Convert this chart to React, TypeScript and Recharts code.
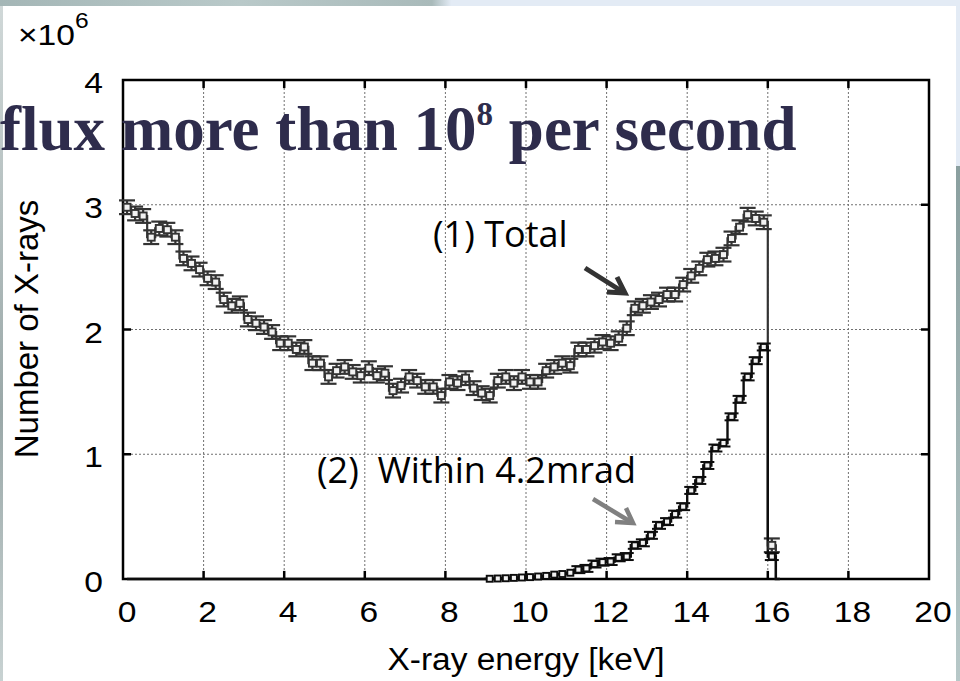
import React from "react";
import {
  ComposedChart,
  Line,
  XAxis,
  YAxis,
  CartesianGrid,
  ErrorBar,
  ReferenceLine,
  ReferenceArea,
} from "recharts";

// counts per 0.2 keV bin (x 10^6), bins centred at 0.1, 0.3, ... 16.3
const TOTAL = [
  2.98, 2.93, 2.91, 2.74, 2.81, 2.8, 2.74, 2.57, 2.53, 2.48,
  2.41, 2.38, 2.24, 2.19, 2.21, 2.08, 2.05, 2.02, 1.98, 1.89,
  1.89, 1.84, 1.86, 1.73, 1.73, 1.62, 1.67, 1.7, 1.66, 1.63,
  1.69, 1.63, 1.65, 1.51, 1.55, 1.62, 1.59, 1.54, 1.54, 1.47,
  1.58, 1.57, 1.61, 1.53, 1.49, 1.47, 1.59, 1.62, 1.57, 1.62,
  1.58, 1.58, 1.67, 1.7, 1.73, 1.71, 1.84, 1.84, 1.87, 1.9,
  1.89, 1.93, 2.01, 2.17, 2.19, 2.22, 2.24, 2.28, 2.28, 2.36,
  2.43, 2.49, 2.56, 2.57, 2.6, 2.73, 2.82, 2.92, 2.89, 2.86,
  0.27, 0,
];

const WITHIN = [
  0, 0, 0, 0, 0, 0, 0, 0, 0, 0,
  0, 0, 0, 0, 0, 0, 0, 0, 0, 0,
  0, 0, 0, 0, 0, 0, 0, 0, 0, 0,
  0, 0, 0, 0, 0, 0, 0, 0, 0, 0,
  0, 0, 0, 0, 0, 0.002, 0.004, 0.006, 0.009, 0.012,
  0.015, 0.02, 0.025, 0.035, 0.04, 0.05, 0.075, 0.085, 0.12, 0.135,
  0.14, 0.17, 0.18, 0.27, 0.29, 0.35, 0.43, 0.46, 0.52, 0.58,
  0.71, 0.79, 0.91, 1.05, 1.09, 1.3, 1.44, 1.62, 1.75, 1.86,
  0.18, 0,
];

const TOTAL_ERR = 0.055;
const WITHIN_ERR = 0.028;

const X_TICKS = [0, 2, 4, 6, 8, 10, 12, 14, 16, 18, 20];
const Y_TICKS = [0, 1, 2, 3, 4];

const data = TOTAL.map((t, i) => ({
  x: Math.round((0.1 + 0.2 * i) * 10) / 10,
  total: t,
  within: WITHIN[i],
  totalErr: t > 0 ? TOTAL_ERR : 0,
  withinErr: WITHIN[i] > 0.05 ? WITHIN_ERR : 0,
}));

const AXIS_FONT = "'Liberation Sans', Arial, sans-serif";

const XTick = (props: any) => {
  const { x, y, payload } = props;
  return (
    <text
      transform={`translate(${x + 4},${y + 43}) scale(1.12,1)`}
      textAnchor="middle"
      fontSize={30}
      fontFamily={AXIS_FONT}
      fill="#000"
    >
      {payload.value}
    </text>
  );
};

const YTick = (props: any) => {
  const { x, y, payload } = props;
  return (
    <text
      transform={`translate(${x - 20},${y + 13}) scale(1.12,1)`}
      textAnchor="end"
      fontSize={30}
      fontFamily={AXIS_FONT}
      fill="#000"
    >
      {payload.value}
    </text>
  );
};

const squareDot = (color: string, size: number) => (props: any) => {
  const { cx, cy, value, index } = props;
  if (!value || cx == null || cy == null) return <g key={`d-${index}`} />;
  return (
    <rect
      key={`d-${index}`}
      x={cx - size / 2}
      y={cy - size / 2}
      width={size}
      height={size}
      fill="#f2f2f2"
      stroke={color}
      strokeWidth={1.9}
    />
  );
};

export default function App() {
  return (
    <div style={{ position: "absolute", left: 0, top: 0, width: 960, height: 681, background: "#fff", overflow: "hidden" }}>
      {/* slide decoration */}
      <div style={{ position: "absolute", left: 0, top: 0, width: 960, height: 6, background: "linear-gradient(90deg, #a4b6b6 0%, #b9c9c9 25%, #a9baba 45%, #e3ebf5 47%, #e3ebf5 100%)" }} />
      <div style={{ position: "absolute", left: 956, top: 0, width: 4, height: 166, background: "#e3ebf5" }} />
      <div style={{ position: "absolute", left: 956, top: 166, width: 4, height: 515, background: "linear-gradient(180deg, #8a9f9f, #b7c8c8)" }} />
      <div style={{ position: "absolute", left: 0, top: 6, width: 3, height: 675, background: "linear-gradient(180deg, #d0d8d8, #9aa8a8 60%, #c8d2d2)" }} />

      <div style={{ position: "absolute", left: 0, top: 0 }}>
        <ComposedChart width={960} height={681} data={data} margin={{ top: 80, right: 31, bottom: 42, left: 23 }}>
          <CartesianGrid stroke="#707070" strokeDasharray="2 2" strokeWidth={1} />
          <XAxis
            dataKey="x"
            type="number"
            domain={[0, 20]}
            ticks={X_TICKS}
            interval={0}
            height={60}
            axisLine={false}
            tickLine={false}
            tickSize={0}
            tickMargin={0}
            tick={<XTick />}
          />
          <YAxis
            type="number"
            domain={[0, 4]}
            ticks={Y_TICKS}
            interval={0}
            width={100}
            axisLine={false}
            tickLine={false}
            tickSize={0}
            tickMargin={0}
            tick={<YTick />}
          />
          <ReferenceArea x1={0} x2={20} y1={0} y2={4} fill="none" fillOpacity={0} stroke="#000" strokeWidth={2.5} />
          {X_TICKS.slice(1, -1).map((t) => (
            <ReferenceLine key={`xb-${t}`} segment={[{ x: t, y: 0 }, { x: t, y: 0.065 }]} stroke="#000" strokeWidth={2.5} />
          ))}
          {X_TICKS.slice(1, -1).map((t) => (
            <ReferenceLine key={`xt-${t}`} segment={[{ x: t, y: 4 }, { x: t, y: 3.935 }]} stroke="#000" strokeWidth={2.5} />
          ))}
          {Y_TICKS.slice(1, -1).map((t) => (
            <ReferenceLine key={`yl-${t}`} segment={[{ x: 0, y: t }, { x: 0.2, y: t }]} stroke="#000" strokeWidth={2.5} />
          ))}
          {Y_TICKS.slice(1, -1).map((t) => (
            <ReferenceLine key={`yr-${t}`} segment={[{ x: 20, y: t }, { x: 19.8, y: t }]} stroke="#000" strokeWidth={2.5} />
          ))}
          <Line
            dataKey="total"
            type="step"
            stroke="#333"
            strokeWidth={2.2}
            dot={squareDot("#333", 7)}
            activeDot={false}
            isAnimationActive={false}
          >
            <ErrorBar dataKey="totalErr" direction="y" width={8} stroke="#333" strokeWidth={2.2} isAnimationActive={false} />
          </Line>
          <Line
            dataKey="within"
            type="step"
            stroke="#0d0d0d"
            strokeWidth={2.4}
            dot={squareDot("#0d0d0d", 6)}
            activeDot={false}
            isAnimationActive={false}
          >
            <ErrorBar dataKey="withinErr" direction="y" width={7} stroke="#0d0d0d" strokeWidth={2} isAnimationActive={false} />
          </Line>
        </ComposedChart>
      </div>

      {/* texts and arrows over the plot */}
      <svg width={960} height={681} style={{ position: "absolute", left: 0, top: 0, pointerEvents: "none" }}>
        <text transform="translate(18,45) scale(1.12,1)" fontSize={30} fontFamily={AXIS_FONT} fill="#000">
          ×10<tspan fontSize={22} dy={-17}>6</tspan>
        </text>
        <text
          transform="translate(38,329) rotate(-90)"
          textAnchor="middle"
          fontSize={33}
          fontFamily={AXIS_FONT}
          fill="#000"
        >
          Number of X-rays
        </text>
        <text
          x={526}
          y={670}
          textAnchor="middle"
          fontSize={31}
          fontFamily={AXIS_FONT}
          textLength={277}
          lengthAdjust="spacingAndGlyphs"
          fill="#000"
        >
          X-ray energy [keV]
        </text>

        <text x={433} y={247} fontSize={36} fontFamily="'Open Sans', 'Noto Sans', sans-serif" fill="#000">
          (1) Total
        </text>
        <text x={317} y={483} fontSize={36} fontFamily="'Open Sans', 'Noto Sans', sans-serif" fill="#000" style={{ whiteSpace: "pre" }}>
          {"(2)  Within 4.2mrad"}
        </text>

        <g stroke="#333" strokeWidth={5} fill="none" strokeLinecap="butt" strokeLinejoin="miter">
          <line x1={585} y1={268} x2={623} y2={292} />
          <polyline points="607,292 625,293 617,277" />
        </g>
        <g stroke="#808080" strokeWidth={4.5} fill="none" strokeLinejoin="miter">
          <line x1={593} y1={499} x2={631} y2={522} />
          <polyline points="615,522 633,523 626,508" />
        </g>

        <text x={0} y={150} fontSize={63} fontWeight={700} fontFamily="'Liberation Serif', 'Times New Roman', serif" fill="#2e2c4c">
          flux more than 10<tspan fontSize={33} dy={-25}>8</tspan>
          <tspan dy={25}> per second</tspan>
        </text>
      </svg>
    </div>
  );
}
